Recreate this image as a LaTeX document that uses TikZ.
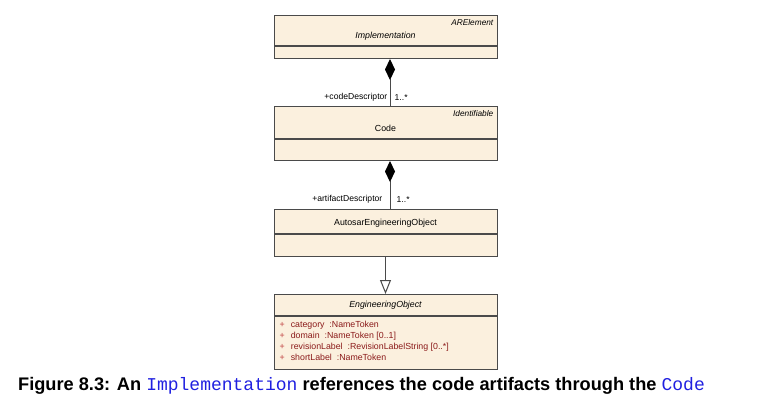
\documentclass[tikz,border=0pt]{standalone}
\usepackage{fontspec}
\setmainfont{Liberation Sans}
\setmonofont{Liberation Mono}
\usetikzlibrary{positioning, arrows.meta}
\definecolor{classfill}{HTML}{FBF0DE}
\definecolor{classline}{HTML}{4A4A4A}
\definecolor{attrred}{HTML}{8B1A1A}
\definecolor{plusred}{HTML}{C04040}
\definecolor{codeblue}{HTML}{2020E0}

\begin{document}
\begin{tikzpicture}[x=1pt, y=-1pt,
				head/.style={draw=classline, fill=classfill, line width=1pt, minimum width=223pt, inner sep=0pt},
				body/.style={head, below=0pt of #1},
				stereo/.style={font=\fontsize{8.3}{10}\selectfont\itshape, inner sep=0pt},
				cname/.style={font=\fontsize{8.8}{10}\selectfont, inner sep=0pt},
				role/.style={font=\fontsize{8.6}{10}\selectfont, inner sep=0pt},
				compose/.style={{Diamond[length=21pt, width=10pt, color=black, fill=black]}-, line width=1pt, color=classline},
				inherit/.style={-{Triangle[open, length=14pt, width=11pt, fill=white]}, line width=1pt, color=classline},
				attrs/.style={font=\fontsize{8.8}{11}\selectfont, align=left, inner sep=0pt, text=attrred},
				caption/.style={font=\fontsize{18.2}{20}\selectfont\bfseries, inner sep=0pt}
			]
			\useasboundingbox (0,0) rectangle (769,404);

			\node[head, minimum height=30pt, anchor=north] (impl) at (385.5,15) {};
			\node[body=impl, minimum height=12pt] (implbody) {};
			\node[stereo, anchor=north east] at ([shift={(-4pt,-4pt)}]impl.north east) {ARElement};
			\node[cname, font=\fontsize{8.8}{10}\selectfont\itshape] at ([yshift=-6pt]impl.center) {Implementation};

			\node[head, minimum height=32pt, anchor=north] (code) at (385.5,106) {};
			\node[body=code, minimum height=21pt] (codebody) {};
			\node[stereo, anchor=north east] at ([shift={(-4pt,-4pt)}]code.north east) {Identifiable};
			\node[cname] at ([yshift=-6pt]code.center) {Code};

			\node[head, minimum height=24pt, anchor=north] (aeo) at (385.5,209) {};
			\node[body=aeo, minimum height=22pt] (aeobody) {};
			\node[cname] at ([yshift=-2pt]aeo.center) {AutosarEngineeringObject};

			\node[head, minimum height=21pt, anchor=north] (engobj) at (385.5,294) {};
			\node[body=engobj, minimum height=53pt] (engbody) {};
			\node[cname, font=\fontsize{8.8}{10}\selectfont\itshape] at (engobj.center) {EngineeringObject};
			\node[attrs, anchor=north west] (engattrs) at ([shift={(6pt,-5pt)}]engbody.north west) {%
				\textcolor{plusred}{+}\hspace{6pt}category~ :NameToken\\
				\textcolor{plusred}{+}\hspace{6pt}domain~ :NameToken [0..1]\\
				\textcolor{plusred}{+}\hspace{6pt}revisionLabel~ :RevisionLabelString [0..*]\\
				\textcolor{plusred}{+}\hspace{6pt}shortLabel~ :NameToken};

			\draw[compose] ([xshift=4.5pt]implbody.south) -- ([xshift=4.5pt]code.north);
			\draw[compose] ([xshift=4.5pt]codebody.south) -- ([xshift=4.5pt]aeo.north);
			\draw[inherit] (aeobody.south) -- (engobj.north);

			\node[role, anchor=south east] at ([shift={(2pt,5pt)}]code.north) {+codeDescriptor};
			\node[role, anchor=south west] at ([shift={(9pt,5pt)}]code.north) {1..*};
			\node[role, anchor=south east] at ([shift={(-3pt,6pt)}]aeo.north) {+artifactDescriptor};
			\node[role, anchor=south west] at ([shift={(11pt,6pt)}]aeo.north) {1..*};

			\node[caption, anchor=base west] (cap) at (18,390) {Figure 8.3: An \textcolor{codeblue}{\fontsize{18}{18}\selectfont\mdseries\ttfamily Implementation} references the code artifacts through the \textcolor{codeblue}{\fontsize{18}{18}\selectfont\mdseries\ttfamily Code}};
		\end{tikzpicture}
\end{document}
